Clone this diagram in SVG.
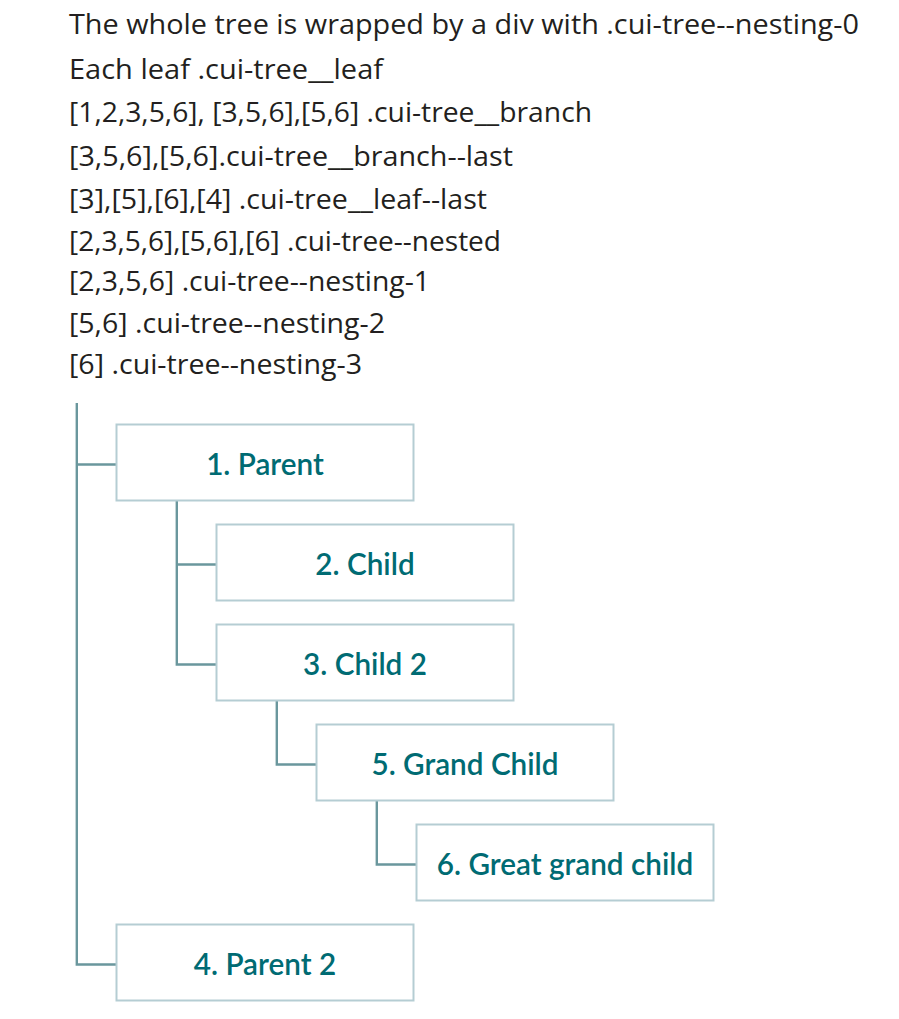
<svg xmlns="http://www.w3.org/2000/svg" width="899" height="1019" viewBox="0 0 899 1019">
<style>
.hdr{font-family:"Open Sans","Noto Sans",sans-serif;font-size:28px;fill:#231f20}
.box{fill:#ffffff;stroke:#b5cdd3;stroke-width:2}
.lbl{font-family:Lato,"Open Sans",sans-serif;font-size:29.7px;font-weight:600;fill:#006b73;text-anchor:middle}
.con{fill:none;stroke:#6a979d;stroke-width:2.4}
</style>
<rect width="899" height="1019" fill="#ffffff"/>
<g id="header">
<text class="hdr" x="69" y="34" textLength="790" lengthAdjust="spacingAndGlyphs">The whole tree is wrapped by a div with .cui-tree--nesting-0</text>
<text class="hdr" x="69" y="79" textLength="314" lengthAdjust="spacingAndGlyphs">Each leaf .cui-tree__leaf</text>
<text class="hdr" x="69" y="122" textLength="523" lengthAdjust="spacingAndGlyphs">[1,2,3,5,6], [3,5,6],[5,6] .cui-tree__branch</text>
<text class="hdr" x="69" y="166" textLength="444" lengthAdjust="spacingAndGlyphs">[3,5,6],[5,6].cui-tree__branch--last</text>
<text class="hdr" x="69" y="209" textLength="418" lengthAdjust="spacingAndGlyphs">[3],[5],[6],[4] .cui-tree__leaf--last</text>
<text class="hdr" x="69" y="251" textLength="432" lengthAdjust="spacingAndGlyphs">[2,3,5,6],[5,6],[6] .cui-tree--nested</text>
<text class="hdr" x="69" y="291" textLength="361" lengthAdjust="spacingAndGlyphs">[2,3,5,6] .cui-tree--nesting-1</text>
<text class="hdr" x="69" y="333" textLength="316" lengthAdjust="spacingAndGlyphs">[5,6] .cui-tree--nesting-2</text>
<text class="hdr" x="69" y="374" textLength="293" lengthAdjust="spacingAndGlyphs">[6] .cui-tree--nesting-3</text>
</g>
<g id="connectors">
<path class="con" d="M76.8 403 V964.5 H116"/>
<path class="con" d="M76.8 464.5 H116"/>
<path class="con" d="M176.8 501 V664.5 H216"/>
<path class="con" d="M176.8 564.5 H216"/>
<path class="con" d="M276.8 701 V764.5 H316"/>
<path class="con" d="M376.8 801 V864.5 H416"/>
</g>
<g id="node-1">
<rect class="box" x="116.5" y="424.5" width="297" height="76"/>
<text class="lbl" x="265" y="474.5">1. Parent</text>
</g>
<g id="node-2">
<rect class="box" x="216.5" y="524.5" width="297" height="76"/>
<text class="lbl" x="365" y="574.5">2. Child</text>
</g>
<g id="node-3">
<rect class="box" x="216.5" y="624.5" width="297" height="76"/>
<text class="lbl" x="365" y="674.5">3. Child 2</text>
</g>
<g id="node-5">
<rect class="box" x="316.5" y="724.5" width="297" height="76"/>
<text class="lbl" x="465" y="774.5">5. Grand Child</text>
</g>
<g id="node-6">
<rect class="box" x="416.5" y="824.5" width="297" height="76"/>
<text class="lbl" x="565" y="874.5">6. Great grand child</text>
</g>
<g id="node-4">
<rect class="box" x="116.5" y="924.5" width="297" height="76"/>
<text class="lbl" x="265" y="974.5">4. Parent 2</text>
</g>
</svg>
